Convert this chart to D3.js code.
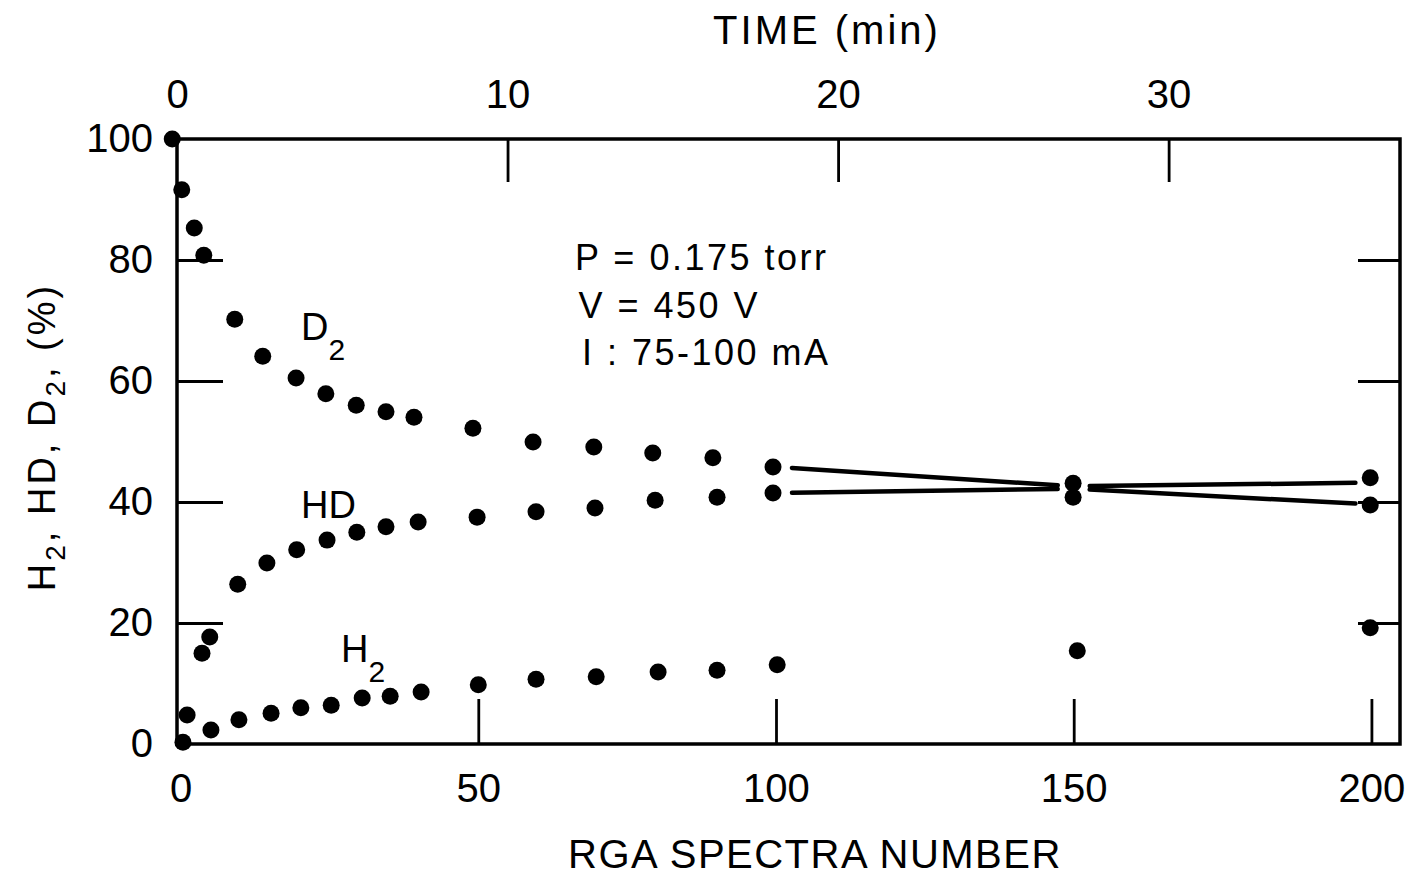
<!DOCTYPE html>
<html>
  <head>
    <meta charset="utf-8">
    <title>H2, HD, D2 vs RGA spectra number</title>
    <script src="https://cdn.jsdelivr.net/npm/d3@7"></script>
    <style>
      body { margin: 0; background: #fff; }
      svg { display: block; }
      text { font-family: "Liberation Sans", Arial, sans-serif; fill: #000; }
      .frame { fill: none; stroke: #000; stroke-width: 3.5; }
      .axis path { display: none; }
      .axis line { stroke: #000; stroke-width: 2.8; }
      .axis text { font-size: 40px; font-family: "Liberation Sans", Arial, sans-serif; }
    </style>
  </head>
  <body>
    <svg width="1421" height="875"></svg>
    <script>
      // values (x = RGA spectra number, y = %)
      var d2X  = [-1.4, 0.2, 2.3, 3.9, 9.1, 13.8, 19.4, 24.4, 29.5, 34.5, 39.2, 49.1, 59.2, 69.4, 79.3, 89.4, 99.5, 149.9, 199.8];
      var d2Y  = [100, 91.6, 85.3, 80.8, 70.2, 64.1, 60.5, 57.9, 56.0, 54.9, 54.0, 52.2, 49.9, 49.1, 48.1, 47.3, 45.8, 43.1, 44.0];
      var hdX  = [3.6, 4.9, 9.6, 14.5, 19.5, 24.6, 29.6, 34.5, 39.9, 49.8, 59.7, 69.6, 79.7, 90.1, 99.5, 149.9, 199.8];
      var hdY  = [15.0, 17.7, 26.4, 29.9, 32.1, 33.7, 35.0, 35.9, 36.7, 37.5, 38.4, 39.0, 40.3, 40.8, 41.5, 40.8, 39.5];
      var h2X  = [0.4, 1.1, 5.1, 9.8, 15.2, 20.2, 25.3, 30.5, 35.2, 40.4, 50.0, 59.7, 69.8, 80.2, 90.1, 100.2, 150.6, 199.8];
      var h2Y  = [0.3, 4.8, 2.3, 4.0, 5.1, 6.0, 6.4, 7.6, 7.9, 8.6, 9.8, 10.7, 11.1, 11.9, 12.2, 13.1, 15.4, 19.2];

      // hand-drawn connecting lines over the last three spectra
      var lineX   = [100, 150, 200];
      var lineD2  = [45.8, 42.6, 43.2];
      var lineHD  = [41.5, 42.2, 39.6];

      var spectraTicks = [0, 50, 100, 150, 200];
      var timeTicks    = [0, 10, 20, 30];
      var pctTicks     = [0, 20, 40, 60, 80, 100];

      var svg = d3.select("svg");
      var plotL = 177, plotR = 1400, plotT = 139, plotB = 744;

      var x = d3.scaleLinear().domain([-0.6, 204.8]).range([plotL, plotR]);
      var t = d3.scaleLinear().domain([0, 37]).range([plotL, plotR]);
      var y = d3.scaleLinear().domain([0, 100]).range([plotB, plotT]);

      svg.append("rect")
          .attr("class", "frame")
          .attr("x", plotL).attr("y", plotT)
          .attr("width", plotR - plotL).attr("height", plotB - plotT);

      // bottom: labels, then inward ticks
      svg.append("g").attr("class", "axis")
          .attr("transform", "translate(0," + plotB + ")")
          .call(d3.axisBottom(x).tickValues(spectraTicks).tickSize(0).tickPadding(30).tickFormat(d3.format("d")));
      svg.append("g").attr("class", "axis")
          .attr("transform", "translate(0," + plotB + ")")
          .call(d3.axisTop(x).tickValues(spectraTicks.slice(1)).tickSize(45).tickFormat(""));

      // top: time axis
      svg.append("g").attr("class", "axis")
          .attr("transform", "translate(0," + plotT + ")")
          .call(d3.axisTop(t).tickValues(timeTicks).tickSize(0).tickPadding(31).tickFormat(d3.format("d")));
      svg.append("g").attr("class", "axis")
          .attr("transform", "translate(0," + plotT + ")")
          .call(d3.axisBottom(t).tickValues(timeTicks.slice(1)).tickSize(43).tickFormat(""));

      // left: labels, inward ticks; right: inward ticks
      svg.append("g").attr("class", "axis")
          .attr("transform", "translate(" + plotL + ",0)")
          .call(d3.axisLeft(y).tickValues(pctTicks).tickSize(0).tickPadding(24).tickFormat(d3.format("d")));
      svg.append("g").attr("class", "axis")
          .attr("transform", "translate(" + plotL + ",0)")
          .call(d3.axisRight(y).tickValues(pctTicks.slice(1, 5)).tickSize(46).tickFormat(""));
      svg.append("g").attr("class", "axis")
          .attr("transform", "translate(" + plotR + ",0)")
          .call(d3.axisLeft(y).tickValues(pctTicks.slice(1, 5)).tickSize(42).tickFormat(""));

      // titles
      svg.append("text")
          .attr("x", 827).attr("y", 44)
          .attr("text-anchor", "middle")
          .style("font-size", "40px").style("letter-spacing", "3px")
          .text("TIME  (min)");
      svg.append("text")
          .attr("x", 815).attr("y", 868)
          .attr("text-anchor", "middle")
          .style("font-size", "40px").style("letter-spacing", "1.5px")
          .text("RGA  SPECTRA NUMBER");

      var yTitle = svg.append("text")
          .attr("transform", "translate(55,437) rotate(-90)")
          .attr("text-anchor", "middle")
          .style("font-size", "38px").style("letter-spacing", "3px");
      yTitle.append("tspan").text("H");
      yTitle.append("tspan").attr("dy", 10).style("font-size", "28px").text("2");
      yTitle.append("tspan").attr("dy", -10).text(", HD, D");
      yTitle.append("tspan").attr("dy", 10).style("font-size", "28px").text("2");
      yTitle.append("tspan").attr("dy", -10).text(", (%)");

      // conditions
      var notes = ["P = 0.175  torr", "V = 450 V", "I  :  75-100 mA"];
      svg.append("g").selectAll("text")
          .data(notes)
          .enter().append("text")
            .attr("x", function(d, i) { return 575 + i * 3.5; })
            .attr("y", function(d, i) { return 270 + i * 47.5; })
            .style("font-size", "36px").style("letter-spacing", "2.5px")
            .text(function(d) { return d; });

      // series labels
      function label(tx, ty, main, sub) {
        var el = svg.append("text").attr("x", tx).attr("y", ty).style("font-size", "38px");
        el.append("tspan").text(main);
        if (sub) el.append("tspan").attr("dy", 20).style("font-size", "30px").text(sub);
      }
      label(301, 340, "D", "2");
      label(301, 518, "HD");
      label(341, 662, "H", "2");

      // connecting lines, broken short of each dot
      function gapLines(vals) {
        var segs = [];
        for (var i = 0; i < lineX.length - 1; i++) {
          var x1 = x(lineX[i]), y1 = y(vals[i]), x2 = x(lineX[i + 1]), y2 = y(vals[i + 1]);
          var len = Math.hypot(x2 - x1, y2 - y1), g = 16;
          segs.push({
            x1: x1 + (x2 - x1) * g / len, y1: y1 + (y2 - y1) * g / len,
            x2: x2 - (x2 - x1) * g / len, y2: y2 - (y2 - y1) * g / len
          });
        }
        return segs;
      }
      svg.append("g").selectAll("line")
          .data(gapLines(lineD2).concat(gapLines(lineHD)))
          .enter().append("line")
            .attr("x1", function(d) { return d.x1; })
            .attr("y1", function(d) { return d.y1; })
            .attr("x2", function(d) { return d.x2; })
            .attr("y2", function(d) { return d.y2; })
            .attr("stroke", "#000")
            .attr("stroke-width", 4.5)
            .attr("stroke-linecap", "round");

      // dots
      var pts = [];
      d2X.forEach(function(v, i) { pts.push([v, d2Y[i]]); });
      hdX.forEach(function(v, i) { pts.push([v, hdY[i]]); });
      h2X.forEach(function(v, i) { pts.push([v, h2Y[i]]); });

      svg.append("g").selectAll("circle")
          .data(pts)
          .enter().append("circle")
            .attr("cx", function(d) { return x(d[0]); })
            .attr("cy", function(d) { return y(d[1]); })
            .attr("r", 8.5)
            .attr("fill", "#000");
    </script>
  </body>
</html>
